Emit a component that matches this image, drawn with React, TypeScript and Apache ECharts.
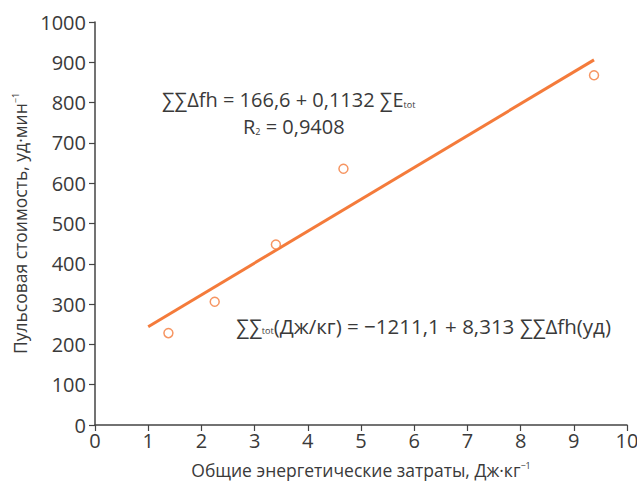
import React, { useEffect, useRef } from "react";
import * as echarts from "echarts";

const pointsX = [1.38, 2.25, 3.4, 4.67, 9.38];
const pointsY = [228, 306, 448, 636, 868];
const fitX = [1.0, 9.38];
const fitY = [244, 906];
const xTicks = [0, 10, 1];
const yTicks = [0, 1000, 100];

const ORANGE = "#f47b3b";
const TEXT = "#3a3a3a";
const FONT = "'Open Sans', 'Noto Sans', sans-serif";

export default function App() {
  const ref = useRef<HTMLDivElement>(null);
  useEffect(() => {
    const chart = echarts.init(ref.current!, null, { renderer: "svg" });
    chart.setOption({
      animation: false,
      backgroundColor: "#ffffff",
      textStyle: { fontFamily: FONT },
      grid: { left: 95, right: 10, top: 22, bottom: 61, containLabel: false, outerBoundsMode: "none" },
      xAxis: {
        type: "value",
        min: xTicks[0],
        max: xTicks[1],
        interval: xTicks[2],
        splitLine: { show: false },
        axisLine: { show: true, lineStyle: { color: "#444", width: 1.5 } },
        axisTick: { show: true, length: 6, lineStyle: { color: "#444", width: 1.2 } },
        axisLabel: { color: TEXT, fontSize: 20, fontFamily: FONT, margin: 5 },
        name: "{a|Общие энергетические затраты, Дж·кг}{s|−1}",
        nameLocation: "middle",
        nameGap: 36,
        nameTextStyle: {
          rich: {
            a: { fontSize: 17.5, color: TEXT, fontFamily: FONT },
            s: { fontSize: 9, color: TEXT, fontFamily: FONT, verticalAlign: "top", padding: [0, 0, 6, 0] },
          },
        },
      },
      yAxis: {
        type: "value",
        min: yTicks[0],
        max: yTicks[1],
        interval: yTicks[2],
        splitLine: { show: false },
        axisLine: { show: true, lineStyle: { color: "#444", width: 1.5 } },
        axisTick: { show: true, length: 6, lineStyle: { color: "#444", width: 1.2 } },
        axisLabel: { color: TEXT, fontSize: 20, fontFamily: FONT, margin: 9, formatter: (v: number) => String(v) },
        name: "{a|Пульсовая стоимость, уд·мин}{s|−1}",
        nameLocation: "middle",
        nameGap: 66,
        nameTextStyle: {
          rich: {
            a: { fontSize: 17.5, color: TEXT, fontFamily: FONT },
            s: { fontSize: 9, color: TEXT, fontFamily: FONT, verticalAlign: "top", padding: [0, 0, 6, 0] },
          },
        },
      },
      series: [
        {
          type: "line",
          data: fitX.map((x, i) => [x, fitY[i]]),
          symbol: "none",
          lineStyle: { color: ORANGE, width: 3 },
          z: 2,
        },
        {
          type: "scatter",
          data: pointsX.map((x, i) => [x, pointsY[i]]),
          symbol: "circle",
          symbolSize: 9,
          itemStyle: { color: "#ffffff", borderColor: ORANGE, borderWidth: 1.5 },
          z: 3,
        },
      ],
      graphic: [
        {
          type: "text",
          left: 162,
          top: 89,
          style: {
            text: "{n|∑∑Δfh = 166,6 + 0,1132 ∑E}{sub|tot}",
            rich: {
              n: { fontSize: 20, fill: TEXT, fontFamily: FONT },
              sub: { fontSize: 9, fill: TEXT, fontFamily: FONT, padding: [10, 0, 0, 0] },
            },
          },
        },
        {
          type: "text",
          left: 243,
          top: 116,
          style: {
            text: "{n|R}{sub|2}{n| = 0,9408}",
            rich: {
              n: { fontSize: 20, fill: TEXT, fontFamily: FONT },
              sub: { fontSize: 9, fill: TEXT, fontFamily: FONT, padding: [10, 0, 0, 0] },
            },
          },
        },
        {
          type: "text",
          left: 236,
          top: 315,
          style: {
            text: "{n|∑∑}{sub|tot}{n|(Дж/кг) = −1211,1 + 8,313 ∑∑Δfh(уд)}",
            rich: {
              n: { fontSize: 20.5, fill: TEXT, fontFamily: FONT },
              sub: { fontSize: 9, fill: TEXT, fontFamily: FONT, padding: [10, 0, 0, 0] },
            },
          },
        },
      ],
    });
    return () => chart.dispose();
  }, []);
  return <div ref={ref} style={{ position: "fixed", left: 0, top: 0, width: 637, height: 486 }} />;
}
